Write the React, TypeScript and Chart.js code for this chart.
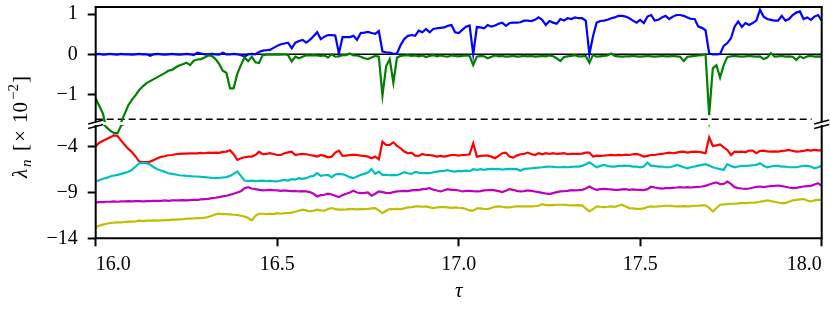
import React, { useEffect, useRef } from 'react';
import { Chart, registerables } from 'chart.js';

Chart.register(...registerables);

// ---------------- data ----------------
const TAU_START = 16.0;
const TAU_STEP = 0.01;
const TAU = Array.from({ length: 201 }, (_, i) => Math.round((TAU_START + i * TAU_STEP) * 100) / 100);

const X_TICKS = [16.0, 16.5, 17.0, 17.5, 18.0];
const TOP_Y_TICKS = [1, 0, -1];
const BOTTOM_Y_TICKS = [-4, -9, -14];
const DASH_LEVEL = -1.62;

const BLUE = [
  0, 0.01, -0.01, 0, 0.01, 0, -0.01, 0.01, 0, 0,
  -0.01, 0, 0.01, 0, 0, -0.04, 0, 0.01, 0, -0.01,
  0, 0.01, 0, -0.01, 0, 0.01, 0, -0.02, 0.04, 0.02,
  0, 0, 0.01, 0, -0.01, 0.04, 0, 0, 0.01, 0,
  -0.02, -0.06, 0, 0.01, 0.0, 0.06, 0.09, 0.10, 0.11, 0.16,
  0.21, 0.25, 0.27, 0.29, 0.15, 0.29, 0.33, 0.36, 0.29, 0.36,
  0.45, 0.55, 0.38, 0.44, 0.48, 0.48, 0.47, 0.02, 0.43, 0.43,
  0.43, 0.46, 0.36, 0.53, 0.54, 0.56, 0.53, 0.51, 0.58, 0.07,
  0.05, 0.04, 0.01, 0.02, 0.23, 0.38, 0.46, 0.48, 0.46, 0.59,
  0.55, 0.63, 0.55, 0.63, 0.65, 0.66, 0.67, 0.71, 0.73, 0.55,
  0.53, 0.61, 0.69, 0.72, 0.0, 0.68, 0.67, 0.65, 0.73, 0.69,
  0.72, 0.76, 0.79, 0.71, 0.78, 0.79, 0.79, 0.8, 0.84, 0.84,
  0.83, 0.86, 0.92, 0.86, 0.73, 0.83, 0.79, 0.76, 0.88, 0.84,
  0.9, 0.88, 0.92, 0.9, 0.9, 0.84, 0.0, 0.45, 0.79, 0.83,
  0.84, 0.86, 0.9, 0.92, 0.96, 0.96, 0.94, 0.9, 0.84, 0.79,
  0.86, 0.78, 0.94, 0.98, 0.84, 0.86, 0.92, 0.96, 0.88, 0.94,
  0.98, 0.98, 0.96, 0.92, 0.88, 0.88, 0.69, 0.66, 0.6, 0.02,
  0.0, 0.0, 0.01, 0.21, 0.28, 0.4, 0.69, 0.82, 0.68, 0.78,
  0.73, 0.78, 0.84, 1.11, 0.94, 0.88, 0.86, 0.84, 0.84, 0.96,
  0.84, 0.88, 0.98, 1.04, 1.07, 0.88, 0.92, 0.86, 0.94, 0.98,
  0.84,
];

const GREEN = [
  -1.1, -1.29, -1.48, -1.9, -2.25, -2.5, -2.55, -1.7, -1.48, -1.27,
  -1.13, -1.02, -0.89, -0.8, -0.72, -0.67, -0.62, -0.57, -0.52, -0.47,
  -0.41, -0.39, -0.33, -0.28, -0.25, -0.21, -0.27, -0.16, -0.13, -0.12,
  -0.08, -0.03, -0.04, -0.12, -0.24, -0.41, -0.46, -0.85, -0.85, -0.49,
  -0.27, -0.08, -0.17, -0.06, -0.2, -0.22, -0.02, -0.01, 0, -0.01,
  0, -0.01, 0, -0.02, -0.18, -0.06, -0.1, -0.06, -0.02, -0.03,
  -0.02, -0.03, -0.04, -0.03, -0.08, 0.0, -0.06, -0.05, -0.02, -0.02,
  0.02, -0.03, -0.03, -0.06, -0.1, -0.12, -0.08, -0.04, -0.06, -1.03,
  -0.3, -0.12, -0.71, -0.08, -0.04, -0.03, -0.02, -0.04, -0.03, -0.05,
  -0.03, -0.07, -0.04, -0.02, -0.05, -0.03, -0.05, -0.06, -0.03, -0.04,
  -0.05, -0.04, -0.03, -0.04, -0.27, -0.06, -0.04, -0.05, -0.1, -0.06,
  -0.03, -0.05, -0.04, -0.06, -0.05, -0.04, -0.06, -0.05, -0.04, -0.05,
  -0.04, -0.06, -0.05, -0.04, -0.05, -0.03, -0.05, -0.1, -0.17, -0.07,
  -0.05, -0.04, -0.02, -0.05, -0.05, -0.04, -0.21, -0.02, -0.06, -0.05,
  -0.04, -0.03, 0.02, -0.04, -0.05, -0.06, -0.05, -0.05, -0.04, -0.05,
  -0.06, -0.05, -0.04, -0.05, -0.06, -0.05, -0.04, -0.05, -0.05, -0.04,
  -0.05, -0.06, -0.17, -0.06, -0.05, -0.04, -0.03, -0.02, 0.0, -1.52,
  -0.35, -0.27, -0.58, -0.27, -0.07, -0.05, -0.04, -0.05, -0.06, -0.05,
  -0.04, -0.05, -0.06, -0.05, -0.12, -0.08, 0.03, -0.06, -0.05, -0.04,
  -0.06, -0.05, -0.06, -0.14, -0.05, -0.1, -0.05, -0.04, -0.06, -0.05,
  -0.06,
];

const RED = [
  -3.95, -3.57, -3.35, -3.17, -2.99, -2.77, -2.84, -3.35, -3.82, -4.25,
  -4.62, -5.09, -5.63, -5.7, -5.7, -5.63, -5.45, -5.27, -5.12, -5.05,
  -4.94, -4.91, -4.83, -4.8, -4.76, -4.76, -4.74, -4.72, -4.74, -4.69,
  -4.72, -4.65, -4.69, -4.65, -4.67, -4.58, -4.54, -4.4, -4.83, -5.45,
  -5.27, -5.16, -5.09, -5.09, -4.91, -4.54, -4.83, -4.8, -4.72, -4.8,
  -4.91, -4.91, -4.72, -4.62, -4.54, -4.91, -4.83, -4.8, -4.83, -4.91,
  -4.98, -5.09, -4.91, -5.01, -5.16, -5.09, -4.65, -4.43, -5.01, -4.98,
  -4.91, -4.87, -4.91, -4.98, -5.01, -5.09, -5.27, -5.09, -5.38, -3.46,
  -3.82, -3.82, -3.53, -3.93, -4.18, -4.54, -4.72, -4.65, -4.98, -5.01,
  -4.8, -4.91, -4.91, -4.98, -5.09, -5.01, -5.09, -5.01, -4.91, -4.91,
  -4.98, -4.91, -4.91, -4.83, -3.64, -5.09, -5.01, -4.98, -4.98, -5.09,
  -5.27, -5.01, -4.72, -4.65, -5.09, -5.2, -4.98, -4.83, -4.8, -4.65,
  -4.8, -4.91, -4.72, -4.83, -4.72, -4.8, -4.72, -4.8, -4.76, -4.72,
  -4.83, -4.8, -4.8, -4.8, -4.76, -4.65, -4.65, -5.09, -4.98, -5.01,
  -4.98, -4.94, -4.91, -4.94, -4.91, -4.94, -4.87, -4.91, -4.83, -4.8,
  -4.91, -5.09, -5.01, -4.91, -4.91, -4.83, -4.8, -4.72, -4.65, -4.72,
  -4.65, -4.58, -4.54, -4.65, -4.58, -4.54, -4.58, -4.62, -4.72, -2.99,
  -3.93, -3.86, -3.75, -4.07, -4.36, -4.91, -4.54, -4.58, -4.54, -4.62,
  -4.43, -4.43, -4.72, -4.47, -4.43, -4.51, -4.54, -4.51, -4.54, -4.47,
  -4.43, -4.36, -4.47, -4.54, -4.51, -4.47, -4.36, -4.43, -4.36, -4.4,
  -4.4,
];

const CYAN = [
  -7.8, -7.66, -7.51, -7.41, -7.26, -7.15, -7.08, -6.97, -6.86, -6.75,
  -6.54, -6.17, -5.81, -5.78, -5.81, -5.96, -6.25, -6.46, -6.61, -6.75,
  -6.9, -6.97, -7.04, -7.12, -7.15, -7.19, -7.22, -7.26, -7.26, -7.3,
  -7.33, -7.37, -7.41, -7.44, -7.41, -7.37, -7.33, -7.19, -6.97, -6.72,
  -7.19, -7.7, -7.77, -7.7, -7.77, -7.73, -7.7, -7.77, -7.73, -7.77,
  -7.8, -7.7, -7.62, -7.7, -7.55, -7.59, -7.44, -7.51, -7.44, -7.26,
  -7.19, -6.9, -7.19, -7.12, -7.08, -7.33, -7.04, -6.97, -7.01, -7.15,
  -7.33, -7.44, -7.26, -7.08, -6.97, -6.83, -6.46, -6.97, -6.72, -7.08,
  -7.08, -7.12, -7.08, -7.12, -6.97, -6.79, -6.9, -6.97, -6.75, -6.83,
  -6.9, -6.9, -6.9, -6.79, -6.72, -6.68, -6.64, -6.57, -6.68, -6.72,
  -6.64, -6.68, -6.61, -6.68, -6.46, -6.54, -6.46, -6.54, -6.46, -6.43,
  -6.46, -6.43, -6.5, -6.46, -6.43, -6.46, -6.46, -6.64, -6.43, -6.39,
  -6.36, -6.32, -6.28, -6.25, -6.21, -6.17, -6.21, -6.25, -6.25, -6.21,
  -6.25, -6.21, -6.17, -6.17, -6.1, -5.92, -5.7, -5.99, -6.25, -6.1,
  -5.99, -6.1, -6.17, -6.17, -6.1, -6.1, -6.07, -6.1, -6.17, -6.17,
  -6.25, -6.17, -5.74, -6.1, -6.1, -6.17, -6.17, -6.25, -6.25, -6.17,
  -5.99, -6.1, -6.25, -6.36, -6.25, -6.17, -6.07, -5.99, -5.92, -6.07,
  -6.25, -6.36, -6.46, -6.54, -5.92, -6.1, -6.25, -6.17, -6.1, -6.1,
  -6.07, -6.03, -5.99, -5.81, -6.1, -6.25, -6.17, -6.1, -6.1, -6.17,
  -6.17, -6.25, -6.25, -6.25, -6.17, -6.1, -6.1, -6.17, -6.36, -6.25,
  -6.1,
];

const MAGENTA = [
  -10.09, -10.05, -10.05, -10.01, -10.01, -9.98, -10.01, -9.98, -9.98, -9.94,
  -9.98, -9.94, -9.94, -9.98, -9.94, -9.94, -9.91, -9.91, -9.91, -9.87,
  -9.91, -9.87, -9.87, -9.87, -9.83, -9.87, -9.83, -9.8, -9.8, -9.76,
  -9.72, -9.69, -9.62, -9.58, -9.51, -9.43, -9.36, -9.25, -9.14, -9.0,
  -8.86, -8.53, -8.42, -8.57, -8.64, -8.71, -8.78, -8.75, -8.71, -8.75,
  -8.78, -8.82, -8.78, -8.82, -8.86, -8.82, -8.89, -8.86, -8.89, -8.96,
  -9.14, -9.43, -9.29, -9.25, -9.14, -9.22, -9.36, -9.51, -9.29, -9.14,
  -9.0, -8.82, -9.0, -9.07, -9.04, -9.0, -9.36, -9.14, -8.89, -8.96,
  -9.04, -9.07, -8.96, -8.89, -8.86, -8.82, -8.86, -8.78, -8.71, -8.75,
  -8.64, -8.6, -8.53, -8.71, -8.78, -8.89, -8.75, -8.64, -8.71, -8.71,
  -8.78, -8.89, -8.82, -8.82, -8.86, -8.89, -8.86, -8.78, -8.75, -8.71,
  -8.78, -8.86, -8.96, -8.82, -8.64, -8.71, -8.82, -8.89, -8.86, -8.78,
  -8.82, -8.89, -8.96, -9.04, -9.11, -9.18, -9.07, -8.96, -8.89, -8.86,
  -8.82, -8.75, -8.78, -8.75, -8.71, -8.57, -8.35, -8.57, -8.71, -8.64,
  -8.6, -8.64, -8.67, -8.71, -8.71, -8.67, -8.64, -8.71, -8.67, -8.71,
  -8.71, -8.75, -8.64, -8.38, -8.46, -8.53, -8.57, -8.53, -8.53, -8.49,
  -8.46, -8.42, -8.46, -8.42, -8.46, -8.42, -8.38, -8.35, -8.28, -8.13,
  -7.99, -7.91, -8.09, -8.06, -7.8, -8.06, -8.42, -8.53, -8.57, -8.6,
  -8.57, -8.49, -8.38, -8.35, -8.42, -8.35, -8.31, -8.28, -8.24, -8.31,
  -8.38, -8.46, -8.53, -8.49, -8.42, -8.35, -8.31, -8.28, -8.13, -7.99,
  -8.28,
];

const YELLOW = [
  -12.77, -12.62, -12.51, -12.41, -12.33, -12.3, -12.26, -12.26, -12.22, -12.19,
  -12.19, -12.15, -12.08, -12.12, -12.08, -12.08, -12.04, -12.08, -12.04, -12.01,
  -12.01, -11.97, -11.97, -11.93, -11.9, -11.86, -11.86, -11.83, -11.79, -11.79,
  -11.75, -11.68, -11.54, -11.39, -11.32, -11.36, -11.36, -11.39, -11.43, -11.46,
  -11.54, -11.64, -11.79, -12.04, -11.54, -11.32, -11.32, -11.36, -11.32, -11.36,
  -11.25, -11.32, -11.25, -11.25, -11.2, -11.1, -10.99, -10.88, -10.95, -11.07,
  -10.99, -10.88, -10.95, -10.99, -10.81, -10.7, -10.81, -10.88, -10.88, -10.85,
  -10.81, -10.81, -10.85, -10.81, -10.81, -10.78, -10.74, -10.7, -10.96, -11.25,
  -10.99, -10.81, -10.81, -10.78, -10.81, -10.74, -10.63, -10.59, -10.52, -10.52,
  -10.56, -10.52, -10.63, -10.7, -10.63, -10.59, -10.59, -10.63, -10.67, -10.63,
  -10.67, -10.7, -10.81, -10.96, -10.99, -10.74, -10.74, -10.78, -10.81, -10.7,
  -10.56, -10.52, -10.56, -10.63, -10.63, -10.56, -10.52, -10.52, -10.52, -10.52,
  -10.52, -10.49, -10.45, -10.27, -10.38, -10.38, -10.38, -10.34, -10.34, -10.34,
  -10.38, -10.41, -10.41, -10.38, -10.41, -10.74, -11.07, -10.81, -10.52, -10.56,
  -10.59, -10.56, -10.52, -10.56, -10.45, -10.34, -10.52, -10.7, -10.74, -10.78,
  -10.78, -10.74, -10.59, -10.52, -10.56, -10.52, -10.49, -10.45, -10.45, -10.49,
  -10.52, -10.52, -10.49, -10.52, -10.49, -10.45, -10.45, -10.41, -10.41, -10.67,
  -11.07, -10.7, -10.34, -10.3, -10.27, -10.23, -10.23, -10.2, -10.16, -10.16,
  -10.12, -10.12, -10.09, -10.01, -9.94, -9.87, -9.94, -10.01, -10.09, -10.16,
  -10.16, -10.01, -9.87, -9.8, -9.76, -9.72, -9.87, -9.98, -9.87, -9.8,
  -9.8,
];

// ---------------- layout / style ----------------
const W = 830;
const H = 311;
const PLOT_LEFT = 95.7;
const PLOT_RIGHT = 821.7;
const TOP_AREA_TOP = 7;
const TOP_AREA_BOTTOM = 122;
const BOT_AREA_TOP = 125;
const BOT_AREA_BOTTOM = 238.3;
const TOP_MIN = -1.69;
const TOP_MAX = 1.18;
const BOT_MIN = -14;
const BOT_MAX = -1.64;

const SERIF = "'Liberation Serif', 'Times New Roman', serif";

const SERIES = [
  { label: 'λ6', data: YELLOW, color: '#bfbf00' },
  { label: 'λ5', data: MAGENTA, color: '#bf00bf' },
  { label: 'λ4', data: CYAN, color: '#00bfbf' },
  { label: 'λ3', data: RED, color: '#ff0000' },
  { label: 'λ2', data: GREEN, color: '#008000' },
  { label: 'λ1', data: BLUE, color: '#0000ff' },
];

function makeDatasets() {
  return SERIES.map((s) => ({
    label: s.label,
    data: TAU.map((t, i) => ({ x: t, y: s.data[i] })),
    borderColor: s.color,
    backgroundColor: s.color,
    borderWidth: 2.2,
    pointRadius: 0,
    pointHoverRadius: 0,
    tension: 0,
    fill: false,
  }));
}

const fmtNum = (v: number) => (v < 0 ? '\u2212' + Math.abs(v) : String(v));

const noOverhang = (s: any) => {
  s.paddingLeft = 0;
  s.paddingRight = 0;
  s.paddingTop = 0;
  s.paddingBottom = 0;
};

function yScale(min: number, max: number, ticks: number[]) {
  return {
    type: 'linear',
    min,
    max,
    afterBuildTicks: (s: any) => {
      s.ticks = ticks.map((v) => ({ value: v }));
    },
    afterFit: (s: any) => {
      s.width = PLOT_LEFT;
      noOverhang(s);
    },
    grid: {
      display: true,
      drawOnChartArea: false,
      drawTicks: true,
      tickLength: 8,
      tickWidth: 2,
      tickColor: '#000',
    },
    border: { display: false },
    ticks: {
      font: { family: SERIF, size: 20 },
      color: '#000',
      padding: 10,
      autoSkip: false,
      callback: (v: any) => fmtNum(Number(v)),
    },
  };
}

function seg(ctx: CanvasRenderingContext2D, x1: number, y1: number, x2: number, y2: number, w: number) {
  ctx.beginPath();
  ctx.moveTo(x1, y1);
  ctx.lineTo(x2, y2);
  ctx.lineWidth = w;
  ctx.stroke();
}

// y-axis label: λ_n [×10^{-2}], rotated; each piece starts at a page y (text runs upward)
function drawYLabel(ctx: CanvasRenderingContext2D) {
  const parts = [
    { t: 'λ', f: `italic 21px ${SERIF}`, dy: 0, y: 178 },
    { t: 'n', f: `italic 15px ${SERIF}`, dy: 4, y: 167 },
    { t: '[', f: `21px ${SERIF}`, dy: 0, y: 151 },
    { t: '\u00d7', f: `21px ${SERIF}`, dy: 0, y: 142 },
    { t: '10', f: `21px ${SERIF}`, dy: 0, y: 123 },
    { t: '\u22122', f: `15px ${SERIF}`, dy: -9, y: 100 },
    { t: ']', f: `21px ${SERIF}`, dy: 0, y: 83 },
  ];
  ctx.save();
  ctx.translate(27, 0);
  ctx.rotate(-Math.PI / 2);
  ctx.fillStyle = '#000';
  ctx.textBaseline = 'alphabetic';
  ctx.textAlign = 'left';
  parts.forEach((p) => {
    ctx.font = p.f;
    ctx.fillText(p.t, -p.y, p.dy);
  });
  ctx.restore();
}

const topDecor = {
  id: 'topDecor',
  beforeDatasetsDraw(chart: any) {
    const { ctx, chartArea: a, scales } = chart;
    ctx.save();
    ctx.strokeStyle = '#000';
    const y0 = scales.y.getPixelForValue(0);
    seg(ctx, a.left, y0, a.right, y0, 1.6);
    const yd = scales.y.getPixelForValue(DASH_LEVEL);
    ctx.setLineDash([7, 4]);
    seg(ctx, a.left, yd, a.right - 10, yd, 1.5);
    ctx.restore();
  },
  afterDraw(chart: any) {
    const { ctx, chartArea: a } = chart;
    ctx.save();
    ctx.strokeStyle = '#000';
    ctx.lineCap = 'square';
    seg(ctx, a.left, a.top, a.right, a.top, 2);
    ctx.lineCap = 'butt';
    seg(ctx, a.left, a.top, a.left, a.bottom, 2);
    seg(ctx, a.right, a.top, a.right, a.bottom, 2);
    ctx.restore();

    drawYLabel(ctx);

    ctx.save();
    ctx.fillStyle = '#000';
    ctx.font = `italic 21px ${SERIF}`;
    ctx.textAlign = 'center';
    ctx.textBaseline = 'alphabetic';
    ctx.fillText('τ', (a.left + a.right) / 2, 297);
    ctx.restore();
  },
};

const bottomDecor = {
  id: 'bottomDecor',
  afterDraw(chart: any) {
    const { ctx, chartArea: a } = chart;
    ctx.save();
    ctx.strokeStyle = '#000';
    ctx.lineCap = 'square';
    seg(ctx, a.left, a.bottom, a.right, a.bottom, 2);
    ctx.lineCap = 'butt';
    seg(ctx, a.left, a.top, a.left, a.bottom, 2);
    seg(ctx, a.right, a.top, a.right, a.bottom, 2);
    // break marks
    [a.left, a.right].forEach((x) => {
      seg(ctx, x - 7.5, 124, x + 7.5, 120, 1.6);
      seg(ctx, x - 7.5, 128.5, x + 7.5, 124.5, 1.6);
    });
    ctx.restore();
  },
};

export default function App() {
  const topRef = useRef<HTMLCanvasElement>(null);
  const botRef = useRef<HTMLCanvasElement>(null);

  useEffect(() => {
    const common = {
      responsive: false,
      maintainAspectRatio: false,
      animation: false,
      devicePixelRatio: 1,
      events: [],
    };

    const bottom = new Chart(botRef.current as HTMLCanvasElement, {
      type: 'line',
      data: { datasets: makeDatasets() as any },
      options: {
        ...common,
        layout: { padding: { top: BOT_AREA_TOP, right: W - PLOT_RIGHT, bottom: 0, left: 0 } },
        plugins: { legend: { display: false }, tooltip: { enabled: false } },
        scales: {
          x: {
            type: 'linear',
            min: 16,
            max: 18,
            afterBuildTicks: (s: any) => {
              s.ticks = X_TICKS.map((v) => ({ value: v }));
            },
            afterFit: (s: any) => {
              s.height = H - BOT_AREA_BOTTOM;
              noOverhang(s);
            },
            grid: {
              display: true,
              drawOnChartArea: false,
              drawTicks: true,
              tickLength: 8,
              tickWidth: 2,
              tickColor: '#000',
            },
            border: { display: false },
            ticks: {
              font: { family: SERIF, size: 20 },
              color: '#000',
              padding: 6,
              maxRotation: 0,
              autoSkip: false,
              align: 'inner',
              callback: (v: any) => Number(v).toFixed(1),
            },
          },
          y: yScale(BOT_MIN, BOT_MAX, BOTTOM_Y_TICKS),
        } as any,
      },
      plugins: [bottomDecor],
    } as any);

    const top = new Chart(topRef.current as HTMLCanvasElement, {
      type: 'line',
      data: { datasets: makeDatasets() as any },
      options: {
        ...common,
        layout: { padding: { top: TOP_AREA_TOP, right: W - PLOT_RIGHT, bottom: H - TOP_AREA_BOTTOM, left: 0 } },
        plugins: { legend: { display: false }, tooltip: { enabled: false } },
        scales: {
          x: { type: 'linear', min: 16, max: 18, display: false },
          y: yScale(TOP_MIN, TOP_MAX, TOP_Y_TICKS),
        } as any,
      },
      plugins: [topDecor],
    } as any);

    return () => {
      top.destroy();
      bottom.destroy();
    };
  }, []);

  const cStyle: React.CSSProperties = { position: 'absolute', left: 0, top: 0, width: W, height: H };
  return (
    <div style={{ position: 'fixed', left: 0, top: 0, width: W, height: H, background: '#fff' }}>
      <canvas ref={botRef} width={W} height={H} style={cStyle} />
      <canvas ref={topRef} width={W} height={H} style={cStyle} />
    </div>
  );
}
